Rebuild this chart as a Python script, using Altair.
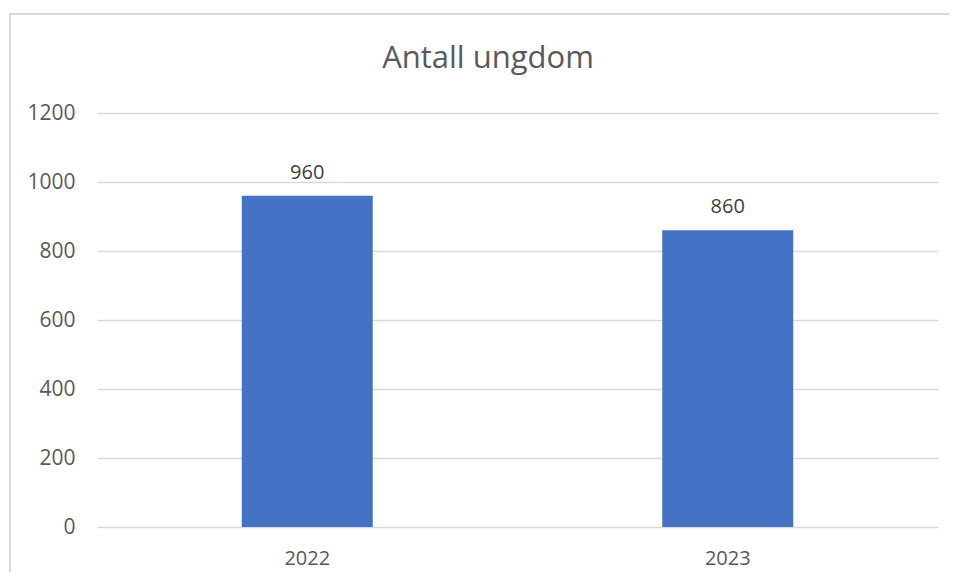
import altair as alt
import pandas as pd

years = ["2022", "2023"]
counts = [960, 860]
y_ticks = [0, 200, 400, 600, 800, 1000, 1200]
title_text = "Antall ungdom"

df = pd.DataFrame({"year": years, "count": counts})

FONT = "Open Sans"
GRAY = "#595959"

base = alt.Chart(df).encode(
    x=alt.X("year:N", sort=years, title=None,
            scale=alt.Scale(paddingInner=0, paddingOuter=0),
            axis=alt.Axis(labelAngle=0, ticks=False, domain=False, labelPadding=21,
                          labelFontSize=20, labelColor=GRAY, labelFont=FONT, grid=False)),
    y=alt.Y("count:Q", title=None,
            scale=alt.Scale(domain=[0, 1200], nice=False),
            axis=alt.Axis(values=y_ticks, format="d", ticks=False, domain=False, labelPadding=22,
                          labelFontSize=21, labelColor=GRAY, labelFont=FONT,
                          gridColor="#d9d9d9", gridWidth=1.5)),
)

bars = base.mark_bar(color="#4472C4", width=alt.RelativeBandSize(0.3115))
labels = base.mark_text(baseline="bottom", dy=-13, fontSize=20, color="#404040", font=FONT).encode(
    text=alt.Text("count:Q")
)

border = alt.Chart(df).mark_rect(fill="transparent", stroke="#d9d9d9", strokeWidth=2, clip=False).encode(
    x=alt.value(-87), x2=alt.value(880), y=alt.value(-99), y2=alt.value(490)
)

title = alt.Chart(pd.DataFrame({"t": [title_text]})).mark_text(
    fontSize=31, font=FONT, color=GRAY, baseline="middle", align="center"
).encode(x=alt.value(391), y=alt.value(-54), text="t:N")

chart = alt.layer(border, bars, labels, title).properties(
    width=841, height=414,
    autosize=alt.AutoSizeParams(type="none"),
    padding={"left": 89, "top": 105, "right": 11, "bottom": 45},
).configure_view(stroke=None)

chart.save("out.html", embed_options={"renderer": "svg", "actions": False})
